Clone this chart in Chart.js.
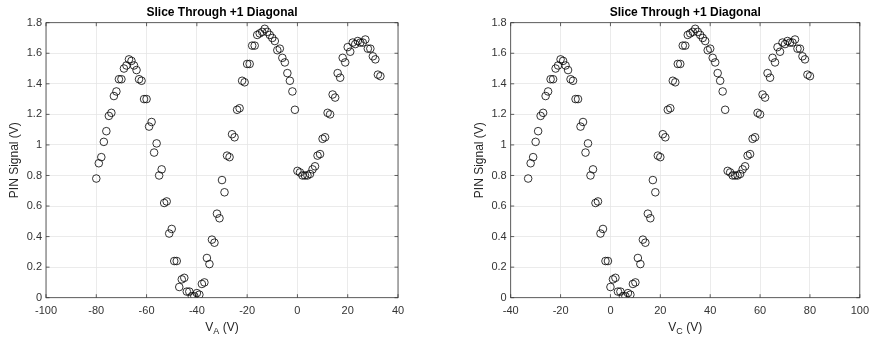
<!DOCTYPE html>
<html>
<head>
<meta charset="utf-8">
<script src="https://cdn.jsdelivr.net/npm/chart.js@4/dist/chart.umd.min.js"></script>
<style>
  body { margin: 0; background: #fff; }
  .box { position: absolute; top: 0; width: 438px; height: 343px; }
</style>
</head>
<body>
<div class="box" style="left:0"><canvas id="chartA" width="438" height="343"></canvas></div>
<div class="box" style="left:438px"><canvas id="chartC" width="438" height="343"></canvas></div>
<script>
// x values (V) for each slice, 1 V steps
var vA = [-80,-79,-78,-77,-76,-75,-74,-73,-72,-71,-70,-69,-68,-67,-66,-65,-64,-63,-62,-61,
          -60,-59,-58,-57,-56,-55,-54,-53,-52,-51,-50,-49,-48,-47,-46,-45,-44,-43,-42,-41,
          -40,-39,-38,-37,-36,-35,-34,-33,-32,-31,-30,-29,-28,-27,-26,-25,-24,-23,-22,-21,
          -20,-19,-18,-17,-16,-15,-14,-13,-12,-11,-10,-9,-8,-7,-6,-5,-4,-3,-2,-1,
          0,1,2,3,4,5,6,7,8,9,10,11,12,13,14,15,16,17,18,19,
          20,21,22,23,24,25,26,27,28,29,30,31,32,33];
var vC = [-33,-32,-31,-30,-29,-28,-27,-26,-25,-24,-23,-22,-21,-20,-19,-18,-17,-16,-15,-14,
          -13,-12,-11,-10,-9,-8,-7,-6,-5,-4,-3,-2,-1,0,1,2,3,4,5,6,
          7,8,9,10,11,12,13,14,15,16,17,18,19,20,21,22,23,24,25,26,
          27,28,29,30,31,32,33,34,35,36,37,38,39,40,41,42,43,44,45,46,
          47,48,49,50,51,52,53,54,55,56,57,58,59,60,61,62,63,64,65,66,
          67,68,69,70,71,72,73,74,75,76,77,78,79,80];
// PIN signal (V)
var pin = [0.78,0.88,0.92,1.02,1.09,1.19,1.21,1.32,1.35,1.43,1.43,1.50,1.52,1.56,1.55,1.52,1.49,1.43,1.42,1.30,
           1.30,1.12,1.15,0.95,1.01,0.80,0.84,0.62,0.63,0.42,0.45,0.24,0.24,0.07,0.12,0.13,0.04,0.04,0.01,0.01,
           0.03,0.02,0.09,0.10,0.26,0.22,0.38,0.36,0.55,0.52,0.77,0.69,0.93,0.92,1.07,1.05,1.23,1.24,1.42,1.41,
           1.53,1.53,1.65,1.65,1.72,1.73,1.74,1.76,1.74,1.72,1.70,1.68,1.62,1.63,1.57,1.54,1.47,1.42,1.35,1.23,
           0.83,0.82,0.80,0.80,0.80,0.81,0.84,0.86,0.93,0.94,1.04,1.05,1.21,1.20,1.33,1.31,1.47,1.44,1.57,1.54,
           1.64,1.61,1.67,1.66,1.68,1.67,1.67,1.69,1.63,1.63,1.58,1.56,1.46,1.45];

var xTicksA = [-100,-80,-60,-40,-20,0,20,40];
var xTicksC = [-40,-20,0,20,40,60,80,100];
var yTicks = [0,0.2,0.4,0.6,0.8,1,1.2,1.4,1.6,1.8];

var titleText = 'Slice Through +1 Diagonal';
var yTitle = 'PIN Signal (V)';

var FONT = '"Liberation Sans", Arial, sans-serif';
var AXIS_COL = '#3a3a3a';

function points(xs, ys) {
    var out = [];
    for (var i = 0; i < xs.length; i++) out.push({x: xs[i], y: ys[i]});
    return out;
}

// title, axis labels (with subscript), inward ticks and the box round the plot
function decorPlugin(sub) {
    return {
        id: 'decor',
        afterDraw: function(chart) {
            var ctx = chart.ctx, ca = chart.chartArea;
            var cx = (ca.left + ca.right) / 2;
            var tl = 3.5;
            ctx.save();
            ctx.strokeStyle = AXIS_COL;
            ctx.lineWidth = 0.8;
            ctx.strokeRect(ca.left, ca.top, ca.right - ca.left, ca.bottom - ca.top);

            ctx.beginPath();
            chart.scales.x.ticks.forEach(function(t) {
                var px = chart.scales.x.getPixelForValue(t.value);
                ctx.moveTo(px, ca.bottom); ctx.lineTo(px, ca.bottom - tl);
                ctx.moveTo(px, ca.top); ctx.lineTo(px, ca.top + tl);
            });
            chart.scales.y.ticks.forEach(function(t) {
                var py = chart.scales.y.getPixelForValue(t.value);
                ctx.moveTo(ca.left, py); ctx.lineTo(ca.left + tl, py);
                ctx.moveTo(ca.right, py); ctx.lineTo(ca.right - tl, py);
            });
            ctx.stroke();

            ctx.fillStyle = '#000';
            ctx.font = 'bold 12px ' + FONT;
            ctx.textAlign = 'center';
            ctx.textBaseline = 'middle';
            ctx.fillText(titleText, cx, 12.5);

            ctx.fillStyle = '#262626';
            ctx.font = '12px ' + FONT;
            ctx.save();
            ctx.translate(ca.left - 31, (ca.top + ca.bottom) / 2);
            ctx.rotate(-Math.PI / 2);
            ctx.fillText(yTitle, 0, 0);
            ctx.restore();

            // V_sub (V)
            ctx.textAlign = 'left';
            ctx.textBaseline = 'alphabetic';
            var big = '12px ' + FONT, small = '9px ' + FONT;
            ctx.font = big;
            var w1 = ctx.measureText('V').width;
            var w3 = ctx.measureText(' (V)').width;
            ctx.font = small;
            var w2 = ctx.measureText(sub).width;
            var x0 = cx - (w1 + w2 + w3) / 2;
            var base = 331;
            ctx.font = big;
            ctx.fillText('V', x0, base);
            ctx.font = small;
            ctx.fillText(sub, x0 + w1, base + 3);
            ctx.font = big;
            ctx.fillText(' (V)', x0 + w1 + w2, base);
            ctx.restore();
        }
    };
}

function makeChart(id, xs, xTicks, sub, padLeft, padRight) {
    var config = {
        type: 'scatter',
        data: {
            datasets: [{
                data: points(xs, pin),
                pointStyle: 'circle',
                pointRadius: 3.8,
                pointHoverRadius: 3.8,
                borderWidth: 0.8,
                borderColor: '#000',
                backgroundColor: 'rgba(0,0,0,0)'
            }]
        },
        options: {
            responsive: false,
            animation: false,
            events: [],
            layout: { padding: { left: padLeft, right: padRight, top: 22.7, bottom: 0 } },
            plugins: { legend: { display: false }, tooltip: { enabled: false }, title: { display: false } },
            scales: {
                x: {
                    type: 'linear',
                    min: xTicks[0],
                    max: xTicks[xTicks.length - 1],
                    afterBuildTicks: function(scale) {
                        scale.ticks = xTicks.map(function(v) { return {value: v}; });
                    },
                    afterFit: function(scale) { scale.height = 45.3; },
                    grid: { color: '#e6e6e6', lineWidth: 0.8, drawTicks: false },
                    border: { display: false },
                    ticks: {
                        padding: 7,
                        color: '#333',
                        font: { family: FONT, size: 11 },
                        maxRotation: 0,
                        callback: function(v) { return String(v); }
                    }
                },
                y: {
                    type: 'linear',
                    min: 0,
                    max: 1.8,
                    afterBuildTicks: function(scale) {
                        scale.ticks = yTicks.map(function(v) { return {value: v}; });
                    },
                    afterFit: function(scale) { scale.width = 46; },
                    grid: { color: '#e6e6e6', lineWidth: 0.8, drawTicks: false },
                    border: { display: false },
                    ticks: {
                        padding: 4,
                        color: '#333',
                        font: { family: FONT, size: 11 },
                        callback: function(v) { return String(v); }
                    }
                }
            }
        },
        plugins: [decorPlugin(sub)]
    };
    return new Chart(document.getElementById(id), config);
}

var chartA = makeChart('chartA', vA, xTicksA, 'A', 0, 40);
var chartC = makeChart('chartC', vC, xTicksC, 'C', 26.7, 13.7);
</script>
</body>
</html>
